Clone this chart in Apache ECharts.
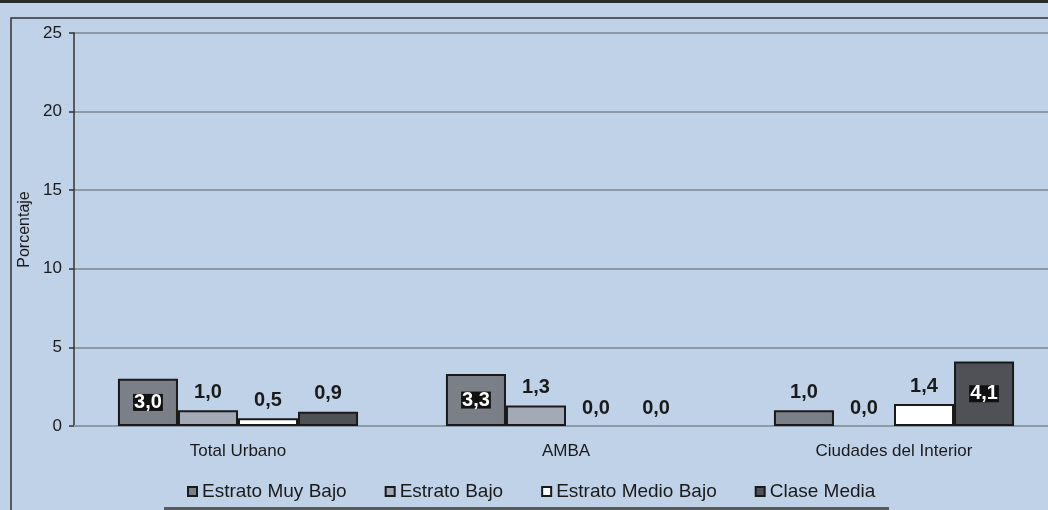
<!DOCTYPE html>
<html>
<head>
<meta charset="utf-8">
<script src="https://cdn.jsdelivr.net/npm/echarts@6/dist/echarts.min.js"></script>
<style>
  html, body { margin: 0; padding: 0; background: #c0d2e8; }
  #chart { width: 1048px; height: 510px; }
</style>
</head>
<body>
<div id="chart"></div>
<script>
// Regions and socio-economic strata
const categories = ['Total Urbano', 'AMBA', 'Ciudades del Interior'];
const seriesNames = ['Estrato Muy Bajo', 'Estrato Bajo', 'Estrato Medio Bajo', 'Clase Media'];

// Percentages per stratum, one value per region
const muyBajo = [3.0, 3.3, 1.0];
const bajo = [1.0, 1.3, 0.0];
const medioBajo = [0.5, 0.0, 1.4];
const claseMedia = [0.9, 0.0, 4.1];

const yTicks = [0, 5, 10, 15, 20, 25];

const seriesValues = [muyBajo, bajo, medioBajo, claseMedia];
const barColors = ['#7b7f87', '#a3aab6', '#ffffff', '#4f5156'];
const FONT = '"Liberation Sans", Arial, sans-serif';

const fmt = v => v.toFixed(1).replace('.', ',');

// Tall bars carry their value inside on a black tag; short ones above the bar
function buildData(values) {
  return values.map(v => {
    const item = { value: v };
    if (v === 0) item.itemStyle = { borderWidth: 0 };
    if (v >= 2) {
      item.label = {
        position: 'inside',
        color: '#ffffff',
        backgroundColor: '#111111',
        padding: [1, 1, 0, 1],
        lineHeight: 16
      };
    }
    return item;
  });
}

const chart = echarts.init(document.getElementById('chart'), null, { renderer: 'canvas' });

chart.setOption({
  backgroundColor: '#c0d2e8',
  animation: false,
  textStyle: { fontFamily: FONT },
  // plot runs slightly past the right edge of the page
  grid: { left: 74, width: 984, top: 33, bottom: 84, containLabel: false, outerBoundsMode: 'none' },
  legend: {
    data: seriesNames,
    left: 187,
    top: 482,
    padding: 0,
    itemWidth: 9,
    itemHeight: 9,
    itemGap: 38,
    icon: 'rect',
    textStyle: { fontFamily: FONT, fontSize: 19, color: '#1a1a1a' }
  },
  xAxis: {
    type: 'category',
    data: categories,
    axisLine: { lineStyle: { color: '#8e99a7', width: 2 } },
    axisTick: { show: false },
    axisLabel: { fontFamily: FONT, fontSize: 17, color: '#1a1a1a', margin: 17 },
    splitLine: { show: false }
  },
  yAxis: {
    type: 'value',
    min: yTicks[0],
    max: yTicks[yTicks.length - 1],
    interval: yTicks[1] - yTicks[0],
    name: 'Porcentaje',
    nameLocation: 'middle',
    nameGap: 37,
    nameTextStyle: { fontFamily: FONT, fontSize: 16, color: '#1a1a1a' },
    axisLine: { show: true, lineStyle: { color: '#333333', width: 1.5 } },
    axisTick: { show: true, length: 5, lineStyle: { color: '#333333', width: 1.5 } },
    axisLabel: { fontFamily: FONT, fontSize: 17, color: '#1a1a1a', margin: 12 },
    splitLine: { lineStyle: { color: '#8e99a7', width: 2 } }
  },
  series: seriesNames.map((name, i) => ({
    name: name,
    type: 'bar',
    data: buildData(seriesValues[i]),
    barGap: '0%',
    barCategoryGap: '26.8%',
    itemStyle: { color: barColors[i], borderColor: '#1a1a1a', borderWidth: 2 },
    label: {
      show: true,
      position: 'top',
      distance: 8,
      formatter: p => fmt(p.value),
      fontFamily: FONT,
      fontSize: 20,
      fontWeight: 'bold',
      color: '#1a1a1a'
    }
  })),
  graphic: [
    // heavy rule along the top edge
    { type: 'rect', left: 0, top: 0, shape: { width: 1048, height: 3 }, style: { fill: '#2a2a2a' }, silent: true },
    // frame around the chart area
    { type: 'polyline', shape: { points: [[11, 512], [11, 18], [1050, 18]] }, style: { stroke: '#333333', lineWidth: 1.5, fill: null }, silent: true },
    // rule below the legend
    { type: 'rect', left: 164, top: 507, shape: { width: 725, height: 3 }, style: { fill: '#5a5a5a' }, silent: true }
  ]
});
</script>
</body>
</html>
